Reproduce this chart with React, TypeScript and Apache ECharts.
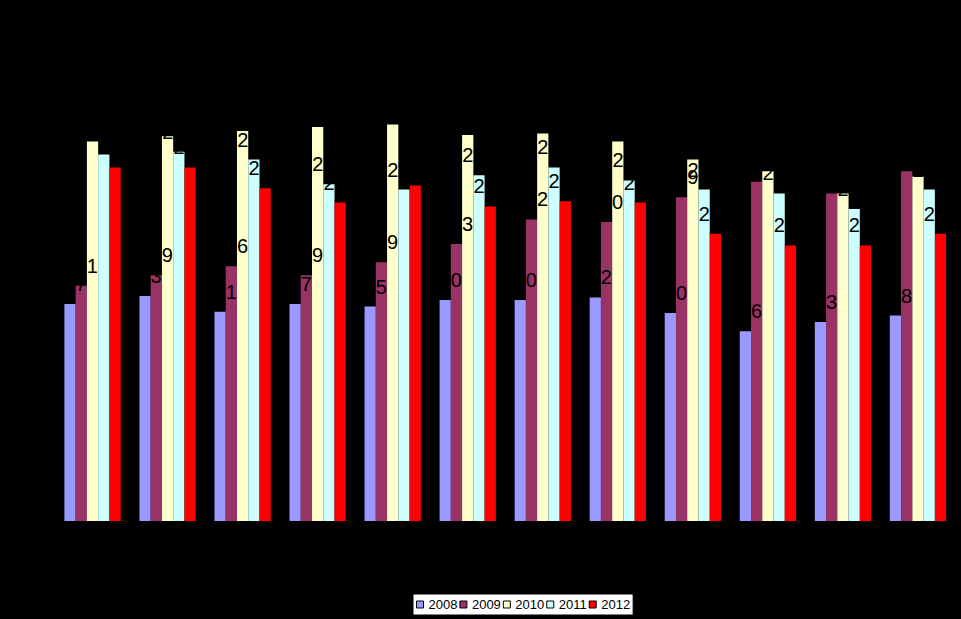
import React, { useEffect, useRef } from "react";
import * as echarts from "echarts";

const categories = ["1", "2", "3", "4", "5", "6", "7", "8", "9", "10", "11", "12"];
const seriesNames = ["2008", "2009", "2010", "2011", "2012"];
const values2008 = [167, 173, 161, 167, 165, 170, 170, 172, 160, 146, 153, 158];
const values2009 = [181, 189, 196, 189, 199, 213, 232, 230, 249, 261, 252, 269];
const values2010 = [292, 296, 300, 303, 305, 297, 298, 292, 278, 269, 252, 265];
const values2011 = [282, 284, 278, 259, 255, 266, 272, 262, 255, 252, 240, 255];
const values2012 = [272, 272, 256, 245, 258, 242, 246, 245, 221, 212, 212, 221];
const colors = ["#9999FF", "#993366", "#FFFFCC", "#CCFFFF", "#FF0000"];

export default function App() {
  const ref = useRef<HTMLDivElement>(null);
  useEffect(() => {
    document.body.style.margin = "0";
    document.body.style.background = "#000";
    const chart = echarts.init(ref.current!, null, { renderer: "svg" });
    const all = [values2008, values2009, values2010, values2011, values2012];
    chart.setOption({
      animation: false,
      backgroundColor: "#000000",
      textStyle: { fontFamily: "Arial, 'Liberation Sans', sans-serif" },
      grid: { left: 55, right: 5.5, top: 66, bottom: 98, containLabel: false },
      legend: {
        data: seriesNames,
        left: 413,
        top: 594,
        backgroundColor: "#FFFFFF",
        borderColor: "#000000",
        borderWidth: 1,
        padding: [4, 3],
        itemWidth: 7,
        itemHeight: 7,
        itemGap: 2,
        icon: "rect",
        itemStyle: { borderColor: "#000000", borderWidth: 1 },
        textStyle: { color: "#000000", fontSize: 13, fontFamily: "Arial, 'Liberation Sans', sans-serif" },
      },
      xAxis: {
        type: "category",
        data: categories,
        axisLine: { lineStyle: { color: "#000000" } },
        axisTick: { show: false },
        axisLabel: { show: false },
      },
      yAxis: {
        type: "value",
        min: 0,
        max: 350,
        interval: 50,
        axisLine: { show: false },
        axisLabel: { show: false },
        splitLine: { show: false },
      },
      series: seriesNames.map((name, i) => ({
        name,
        type: "bar",
        data: all[i],
        barGap: "0%",
        barCategoryGap: "25%",
        itemStyle: { color: colors[i] },
        label: {
          show: true,
          position: "top",
          distance: 10,
          color: "#000000",
          fontSize: 20,
          fontFamily: "Arial, 'Liberation Sans', sans-serif",
        },
      })),
    });
    return () => chart.dispose();
  }, []);
  return <div ref={ref} style={{ width: 961, height: 619, position: "absolute", left: 0, top: 0 }} />;
}
